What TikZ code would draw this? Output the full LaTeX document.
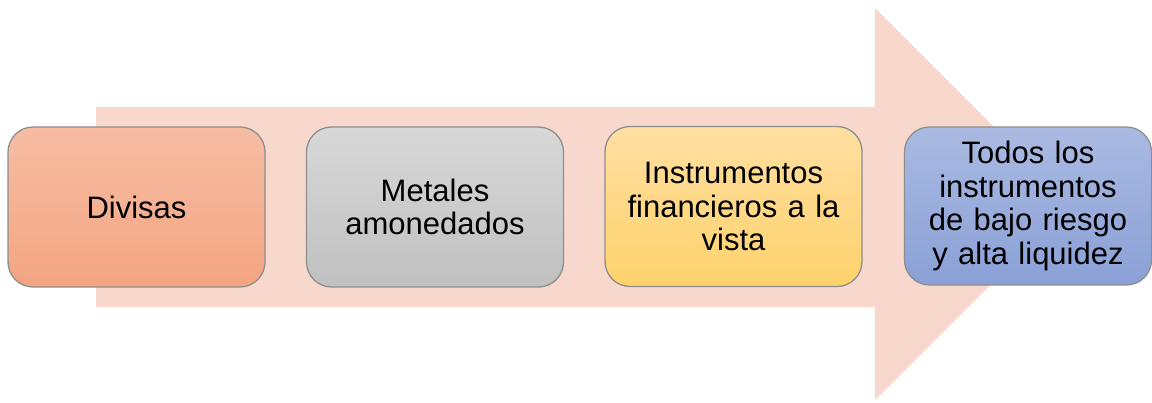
\documentclass[tikz,border=0pt]{standalone}
\usepackage{fontspec}
\setmainfont{Liberation Sans}
\definecolor{arrowfill}{HTML}{F8D8CC}
\definecolor{edgegray}{HTML}{8E8E8E}
\definecolor{oTop}{HTML}{F6BDA3}
\definecolor{oBot}{HTML}{F4A582}
\definecolor{gTop}{HTML}{D8D8D8}
\definecolor{gBot}{HTML}{C0C0C0}
\definecolor{yTop}{HTML}{FFDFA1}
\definecolor{yBot}{HTML}{FFD26C}
\definecolor{bTop}{HTML}{AABAE2}
\definecolor{bBot}{HTML}{8AA0D6}
\begin{document}
\begin{tikzpicture}[x=1pt,y=-1pt,
  card/.style={draw=edgegray, line width=1.3pt, rounded corners=25pt,
    minimum width=257pt, minimum height=160pt, text width=240pt, align=center,
    inner sep=0pt, font=\fontsize{31}{33.5}\selectfont},
]
\useasboundingbox (0,0) rectangle (1152,402);
\fill[arrowfill] (96,107) -- (875,107) -- (875,8) -- (1071,204) -- (875,400) -- (875,307) -- (96,307) -- cycle;
\node[card, top color=oTop, bottom color=oBot] (divisas) at (136.5,207) {Divisas};
\node[card, top color=gTop, bottom color=gBot] (metales) at (435,207) {Metales\\amonedados};
\node[card, top color=yTop, bottom color=yBot] (instr) at (733.5,206.5) {Instrumentos\\financieros a la\\vista};
\node[card, top color=bTop, bottom color=bBot, minimum width=247pt, minimum height=158pt] (todos) at (1028,206) {Todos los\\instrumentos\\de bajo riesgo\\y alta liquidez};
\end{tikzpicture}
\end{document}
